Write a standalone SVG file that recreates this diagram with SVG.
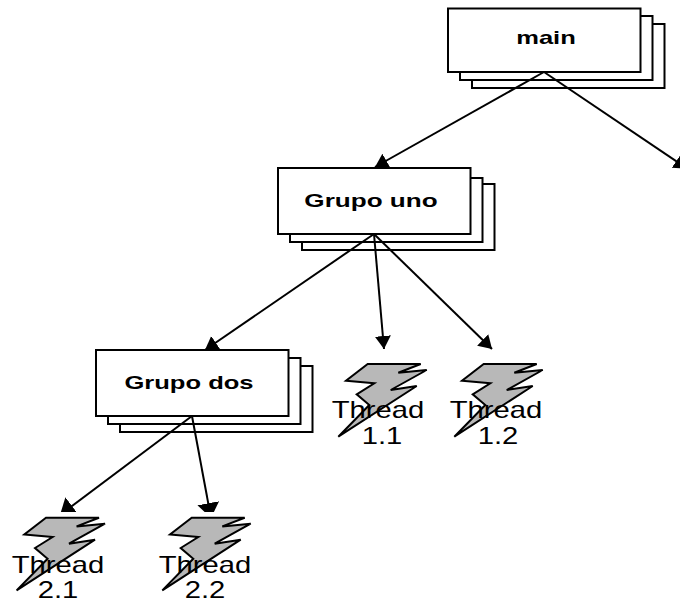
<svg xmlns="http://www.w3.org/2000/svg" width="680" height="602" viewBox="0 0 680 602">
  <style>
    .box { fill: #fff; stroke: #000; stroke-width: 2; }
    .bolt { fill: #b8b8b8; stroke: #000; stroke-width: 2; stroke-linejoin: miter; }
    .lbl { font-family: "Liberation Sans", Arial, sans-serif; font-weight: bold; font-size: 18px; text-anchor: middle; fill: #000; }
    .th { font-family: "Liberation Sans", Arial, sans-serif; font-size: 23px; text-anchor: middle; fill: #000; }
    .edge { stroke: #000; stroke-width: 2; fill: none; marker-end: url(#arrow); }
    .cutEdge { stroke: #000; stroke-width: 2; fill: none; marker-end: url(#arrowWide); }
  </style>
  <defs>
    <marker id="arrow" markerUnits="userSpaceOnUse" markerWidth="15" markerHeight="18" refX="13" refY="8" orient="auto">
      <path d="M0 0 L13 8 L0 16 Z" fill="#000"/>
    </marker>
    <marker id="arrowWide" markerUnits="userSpaceOnUse" markerWidth="17" markerHeight="24" refX="15" refY="11" orient="auto">
      <path d="M0 0 L15 11 L0 22 Z" fill="#000"/>
    </marker>
    <clipPath id="cut"><rect x="0" y="0" width="680" height="512"/></clipPath>
    <polygon id="boltShape" points="367.7,364 420.7,364 398.3,372.7 426.7,370 390.7,390 416.7,386 338.3,436.7 369.3,405 356.7,394.3 374.3,383.3 346,380.7"/>
  </defs>

  <g id="main">
    <rect class="box" x="472" y="24" width="192.500" height="64"/>
    <rect class="box" x="460" y="16" width="192.500" height="64"/>
    <rect class="box" x="448" y="8.500" width="192.500" height="63.500"/>
    <text class="lbl" transform="translate(546,44) scale(1.42,1)">main</text>
  </g>
  <g id="grupo-uno">
    <rect class="box" x="302" y="184" width="192.500" height="66"/>
    <rect class="box" x="290" y="178" width="192.500" height="64"/>
    <rect class="box" x="278" y="168" width="192.500" height="66"/>
    <text class="lbl" transform="translate(371,207) scale(1.45,1)">Grupo uno</text>
  </g>
  <g id="grupo-dos">
    <rect class="box" x="120" y="366" width="192.500" height="66"/>
    <rect class="box" x="108" y="358" width="192.500" height="66"/>
    <rect class="box" x="96" y="350" width="192.500" height="66"/>
    <text class="lbl" transform="translate(189,389) scale(1.42,1)">Grupo dos</text>
  </g>

  <g id="connectors">
    <line class="edge" x1="544" y1="72" x2="375" y2="167"/>
    <line class="edge" x1="544" y1="72" x2="687" y2="168.500"/>
    <line class="edge" x1="374" y1="234" x2="205" y2="350"/>
    <line class="edge" x1="374" y1="234" x2="384" y2="349"/>
    <line class="edge" x1="374" y1="234" x2="492" y2="349"/>
    <g clip-path="url(#cut)">
      <line class="cutEdge" x1="192" y1="416" x2="60" y2="515"/>
      <line class="cutEdge" x1="192" y1="416" x2="211" y2="518"/>
    </g>
  </g>

  <g id="thread-1-1">
    <use href="#boltShape" class="bolt"/>
    <text class="th" transform="translate(378,418) scale(1.27,1)">Thread</text>
    <text class="th" transform="translate(382,444) scale(1.27,1)">1.1</text>
  </g>
  <g id="thread-1-2">
    <use href="#boltShape" class="bolt" x="116"/>
    <text class="th" transform="translate(496,418) scale(1.27,1)">Thread</text>
    <text class="th" transform="translate(498,444) scale(1.27,1)">1.2</text>
  </g>
  <g id="thread-2-1">
    <use href="#boltShape" class="bolt" x="-321.700" y="153.700"/>
    <text class="th" transform="translate(58,573) scale(1.27,1)">Thread</text>
    <text class="th" transform="translate(58,598) scale(1.27,1)">2.1</text>
  </g>
  <g id="thread-2-2">
    <use href="#boltShape" class="bolt" x="-176" y="153.700"/>
    <text class="th" transform="translate(205,573) scale(1.27,1)">Thread</text>
    <text class="th" transform="translate(205,598) scale(1.27,1)">2.2</text>
  </g>
</svg>
